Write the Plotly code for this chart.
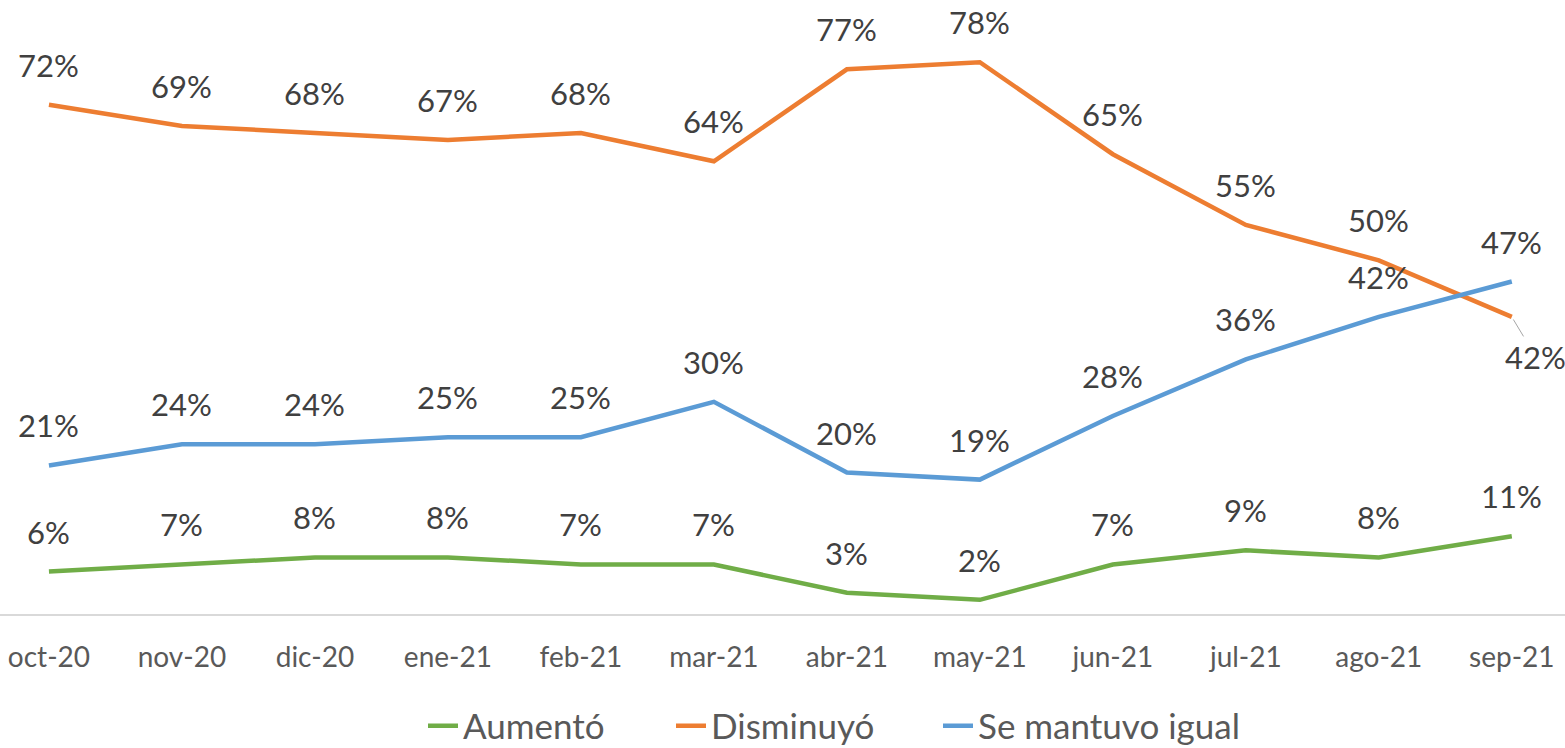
import plotly.graph_objects as go

categories = ["oct-20", "nov-20", "dic-20", "ene-21", "feb-21", "mar-21",
              "abr-21", "may-21", "jun-21", "jul-21", "ago-21", "sep-21"]
aumento = [6, 7, 8, 8, 7, 7, 3, 2, 7, 9, 8, 11]
disminuyo = [72, 69, 68, 67, 68, 64, 77, 78, 65, 55, 50, 42]
igual = [21, 24, 24, 25, 25, 30, 20, 19, 28, 36, 42, 47]

series_names = ["Aumentó", "Disminuyó", "Se mantuvo igual"]
series_values = [aumento, disminuyo, igual]
series_colors = ["#70AD47", "#ED7D31", "#5B9BD5"]
legend_ids = ["legend", "legend2", "legend3"]
legend_text_x = [465, 713, 980]  # pixel where each legend label starts

FONT = "Lato, Liberation Sans, Arial, sans-serif"
W, H = 1565, 748
B = 134
x_idx = list(range(len(categories)))

fig = go.Figure()
annotations = []
for name, vals, color, lid in zip(series_names, series_values, series_colors, legend_ids):
    fig.add_trace(go.Scatter(
        x=x_idx, y=vals, mode="lines", name=name, legend=lid,
        line=dict(color=color, width=4.5),
        hoverinfo="skip",
    ))
    for i, v in enumerate(vals):
        special = (name == "Disminuyó" and i == len(vals) - 1)
        if special:
            annotations.append(dict(
                x=i, y=v, text=f"{v}%", showarrow=True, arrowhead=0,
                arrowwidth=1, arrowcolor="#A6A6A6", ax=24, ay=40, standoff=3,
                font=dict(family=FONT, size=31, color="#404040"),
            ))
        else:
            annotations.append(dict(
                x=i, y=v, text=f"{v}%", showarrow=False, yshift=40,
                font=dict(family=FONT, size=31, color="#404040"),
            ))

plot_h = H - B
legend_y = -(726 - plot_h) / plot_h
legends = {}
for lid, tx in zip(legend_ids, legend_text_x):
    legends[lid] = dict(
        orientation="h", x=(tx - 42) / W, xanchor="left", y=legend_y, yanchor="middle",
        font=dict(family=FONT, size=35, color="#595959"), bgcolor="rgba(0,0,0,0)",
    )

fig.update_layout(
    width=W, height=H,
    margin=dict(l=0, r=0, t=0, b=B, autoexpand=False),
    paper_bgcolor="white", plot_bgcolor="white",
    font=dict(family=FONT, color="#595959"),
    annotations=annotations,
    showlegend=True,
    xaxis=dict(
        range=[-0.368, 11.40], tickmode="array", tickvals=x_idx, ticktext=categories,
        showgrid=False, zeroline=False, showline=True, linecolor="#D9D9D9", linewidth=1.5,
        ticks="", tickfont=dict(family=FONT, size=28, color="#595959"),
        ticklabelstandoff=18, fixedrange=True,
    ),
    yaxis=dict(range=[0, 86.8], visible=False, fixedrange=True),
    **legends,
)

fig.write_html(
    "out.html",
    config={"displayModeBar": False},
    post_script="document.body.style.margin='0';document.body.style.overflow='hidden';",
)
